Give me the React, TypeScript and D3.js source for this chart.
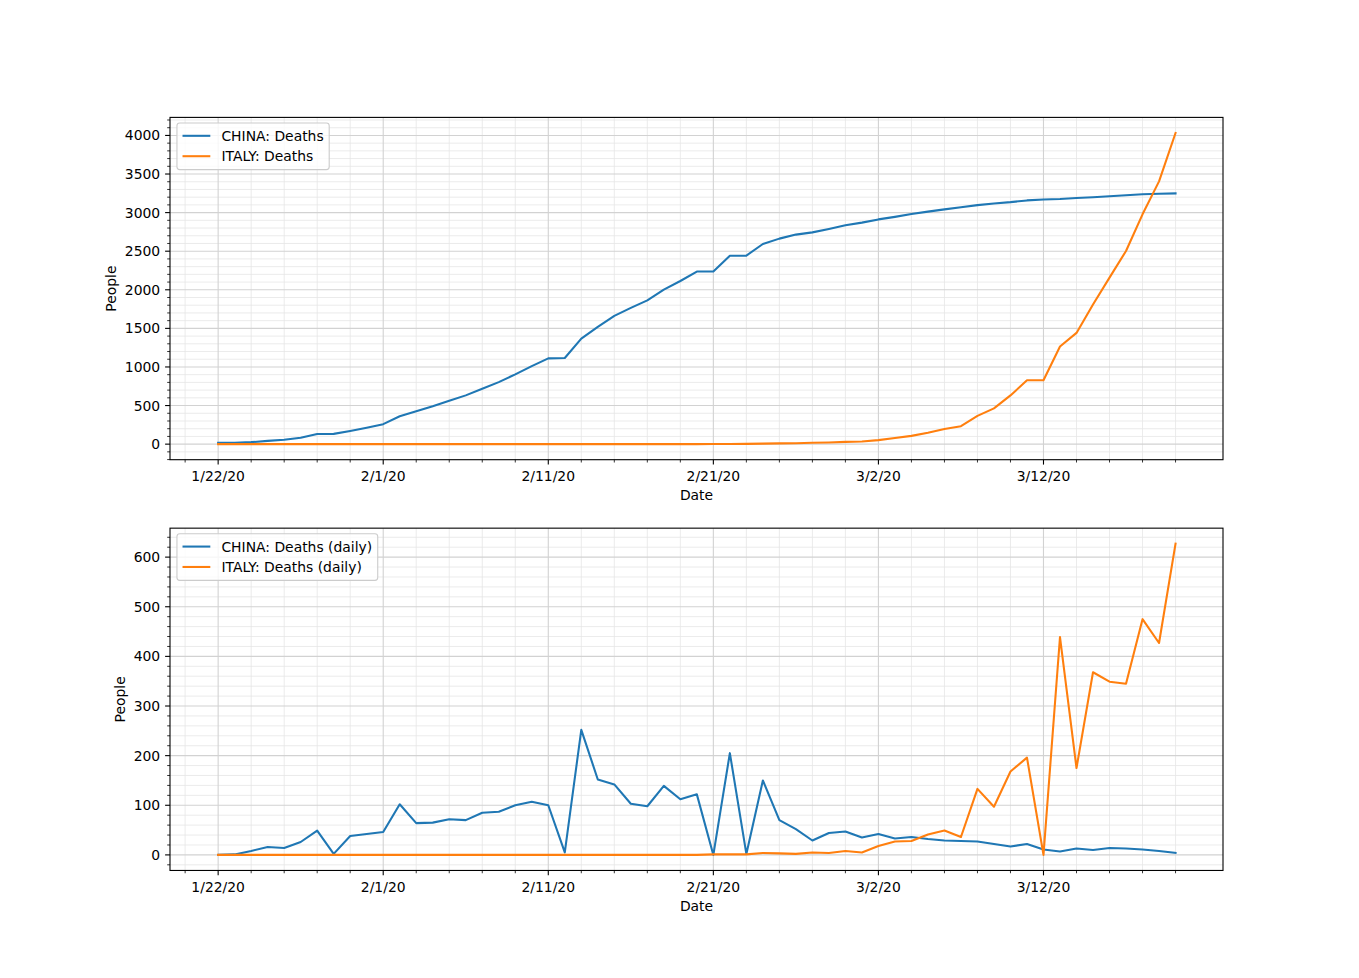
import { useEffect, useRef } from 'react';
import * as d3 from 'd3';

// dates 1/22/20 .. 3/20/20
const startDate = new Date(Date.UTC(2020, 0, 22));
const dayCount = 59;
const dates = d3.range(dayCount).map(i => d3.utcDay.offset(startDate, i));

const chinaDeaths = [
  17, 18, 26, 42, 56, 82, 131, 133, 171, 213,
  259, 361, 425, 490, 562, 632, 717, 804, 904, 1011,
  1111, 1116, 1368, 1520, 1662, 1765, 1863, 2002, 2114, 2236,
  2236, 2441, 2443, 2593, 2663, 2715, 2744, 2788, 2835, 2870,
  2912, 2945, 2981, 3013, 3042, 3070, 3097, 3119, 3136, 3158,
  3169, 3176, 3189, 3199, 3213, 3226, 3237, 3245, 3249,
];
const italyDeaths = [
  0, 0, 0, 0, 0, 0, 0, 0, 0, 0,
  0, 0, 0, 0, 0, 0, 0, 0, 0, 0,
  0, 0, 0, 0, 0, 0, 0, 0, 0, 0,
  1, 2, 3, 7, 10, 12, 17, 21, 29, 34,
  52, 79, 107, 148, 197, 233, 366, 463, 631, 827,
  827, 1266, 1441, 1809, 2158, 2503, 2978, 3405, 4032,
];
const chinaDaily = [
  0, 1, 8, 16, 14, 26, 49, 2, 38, 42,
  46, 102, 64, 65, 72, 70, 85, 87, 100, 107,
  100, 5, 252, 152, 142, 103, 98, 139, 112, 122,
  0, 205, 2, 150, 70, 52, 29, 44, 47, 35,
  42, 33, 36, 32, 29, 28, 27, 22, 17, 22,
  11, 7, 13, 10, 14, 13, 11, 8, 4,
];
const italyDaily = [
  0, 0, 0, 0, 0, 0, 0, 0, 0, 0,
  0, 0, 0, 0, 0, 0, 0, 0, 0, 0,
  0, 0, 0, 0, 0, 0, 0, 0, 0, 0,
  1, 1, 1, 4, 3, 2, 5, 4, 8, 5,
  18, 27, 28, 41, 49, 36, 133, 97, 168, 196,
  0, 439, 175, 368, 349, 345, 475, 427, 627,
];

const topLabels = ['CHINA: Deaths', 'ITALY: Deaths'];
const bottomLabels = ['CHINA: Deaths (daily)', 'ITALY: Deaths (daily)'];
const topYTicks = d3.range(0, 4001, 500);
const bottomYTicks = d3.range(0, 601, 100);
const colors = ['#1f77b4', '#ff7f0e'];

const W = 1359;
const H = 978;
const FS = 13.9;
const FONT = '"DejaVu Sans", sans-serif';

export default function App() {
  const svgRef = useRef<SVGSVGElement>(null);

  useEffect(() => {
    if (!svgRef.current) return;
    const svg = d3.select(svgRef.current);
    svg.selectAll('*').remove();

    const left = 170, right = 1223;
    const axH = 342.3;
    const panels = [
      { top: 117.4, series: [chinaDeaths, italyDeaths], labels: topLabels, yTicks: topYTicks, minorStep: 100, minorMax: 4200, minorMin: -200 },
      { top: 117.4 + axH * 1.2, series: [chinaDaily, italyDaily], labels: bottomLabels, yTicks: bottomYTicks, minorStep: 20, minorMax: 640, minorMin: -20 },
    ];

    // x: 5% margins like matplotlib
    const x0 = d3.utcHour.offset(dates[0], -2.9 * 24);
    const x1 = d3.utcHour.offset(dates[dayCount - 1], 2.9 * 24);
    const x = d3.scaleUtc().domain([x0, x1]).range([left, right]);
    const majorX = d3.range(0, 51, 10).map(i => d3.utcDay.offset(startDate, i));
    const minorX = d3.range(-2, 61, 2).filter(i => i % 10 !== 0).map(i => d3.utcDay.offset(startDate, i));
    const fmt = (d: Date) => `${d.getUTCMonth() + 1}/${d.getUTCDate()}/20`;

    panels.forEach(p => {
      const bottom = p.top + axH;
      const all = p.series.flat();
      const lo = d3.min(all)!, hi = d3.max(all)!;
      const pad = (hi - lo) * 0.05;
      const y = d3.scaleLinear().domain([lo - pad, hi + pad]).range([bottom, p.top]);
      const minorY = d3.range(p.minorMin, p.minorMax + 1, p.minorStep).filter(v => !p.yTicks.includes(v));
      const g = svg.append('g');

      // grid
      g.selectAll('.mgy').data(minorY).join('line')
        .attr('x1', left).attr('x2', right).attr('y1', d => y(d)).attr('y2', d => y(d))
        .attr('stroke', '#e6e6e6').attr('stroke-width', 0.8);
      g.selectAll('.mgx').data(minorX).join('line')
        .attr('y1', p.top).attr('y2', bottom).attr('x1', d => x(d)).attr('x2', d => x(d))
        .attr('stroke', '#e6e6e6').attr('stroke-width', 0.8);
      g.selectAll('.gy').data(p.yTicks).join('line')
        .attr('x1', left).attr('x2', right).attr('y1', d => y(d)).attr('y2', d => y(d))
        .attr('stroke', '#d2d2d2').attr('stroke-width', 1.1);
      g.selectAll('.gx').data(majorX).join('line')
        .attr('y1', p.top).attr('y2', bottom).attr('x1', d => x(d)).attr('x2', d => x(d))
        .attr('stroke', '#d2d2d2').attr('stroke-width', 1.1);

      // lines
      p.series.forEach((s, si) => {
        const line = d3.line<number>().x((_, i) => x(dates[i])).y(d => y(d));
        g.append('path').attr('d', line(s)!)
          .attr('fill', 'none').attr('stroke', colors[si]).attr('stroke-width', 2.08)
          .attr('stroke-linejoin', 'round').attr('stroke-linecap', 'square');
      });

      // frame
      g.append('rect').attr('x', left).attr('y', p.top).attr('width', right - left).attr('height', axH)
        .attr('fill', 'none').attr('stroke', '#000').attr('stroke-width', 1.1);

      // ticks
      g.selectAll('.ty').data(p.yTicks).join('line')
        .attr('x1', left - 4.9).attr('x2', left).attr('y1', d => y(d)).attr('y2', d => y(d))
        .attr('stroke', '#000').attr('stroke-width', 1.1);
      g.selectAll('.tmy').data(minorY).join('line')
        .attr('x1', left - 2.8).attr('x2', left).attr('y1', d => y(d)).attr('y2', d => y(d))
        .attr('stroke', '#000').attr('stroke-width', 0.8);
      g.selectAll('.tx').data(majorX).join('line')
        .attr('y1', bottom).attr('y2', bottom + 4.9).attr('x1', d => x(d)).attr('x2', d => x(d))
        .attr('stroke', '#000').attr('stroke-width', 1.1);
      g.selectAll('.tmx').data(minorX).join('line')
        .attr('y1', bottom).attr('y2', bottom + 2.8).attr('x1', d => x(d)).attr('x2', d => x(d))
        .attr('stroke', '#000').attr('stroke-width', 0.8);

      // tick labels
      const yl = g.selectAll('.ly').data(p.yTicks).join('text')
        .attr('x', left - 9.8).attr('y', d => y(d) + FS * 0.36)
        .attr('text-anchor', 'end').attr('font-family', FONT).attr('font-size', FS).attr('fill', '#000')
        .text(d => String(d));
      g.selectAll('.lx').data(majorX).join('text')
        .attr('x', d => x(d)).attr('y', bottom + 9.8 + FS * 0.76 + 1)
        .attr('text-anchor', 'middle').attr('font-family', FONT).attr('font-size', FS).attr('fill', '#000')
        .text(d => fmt(d));

      // axis labels
      g.append('text').attr('x', (left + right) / 2).attr('y', bottom + 9.8 + FS * 1.17 + 5.6 + FS * 0.76 - 1.5)
        .attr('text-anchor', 'middle').attr('font-family', FONT).attr('font-size', FS).text('Date');
      let maxW = 0;
      yl.each(function () { maxW = Math.max(maxW, (this as SVGTextElement).getComputedTextLength()); });
      const ylx = left - 9.8 - maxW - 5.6 - FS * 0.24;
      g.append('text').attr('transform', `translate(${ylx},${p.top + axH / 2}) rotate(-90)`)
        .attr('text-anchor', 'middle').attr('font-family', FONT).attr('font-size', FS).text('People');

      // legend
      const lx = left + 6.95, ly = p.top + 5.6;
      const leg = g.append('g');
      const box = leg.append('rect');
      let tw = 0;
      p.labels.forEach((lab, i) => {
        const cy = ly + 5.56 + FS / 2 + 0.3 + i * 20.4;
        leg.append('line').attr('x1', lx + 5.56).attr('x2', lx + 5.56 + 27.8).attr('y1', cy).attr('y2', cy)
          .attr('stroke', colors[i]).attr('stroke-width', 2.08);
        const t = leg.append('text').attr('x', lx + 5.56 + 27.8 + 11.1).attr('y', cy + FS * 0.36)
          .attr('font-family', FONT).attr('font-size', FS).attr('fill', '#000').text(lab);
        tw = Math.max(tw, (t.node() as SVGTextElement).getComputedTextLength());
      });
      box.attr('x', lx).attr('y', ly).attr('width', 5.56 * 2 + 27.8 + 11.1 + tw)
        .attr('height', 46.6).attr('rx', 2.8)
        .attr('fill', 'rgba(255,255,255,0.8)').attr('stroke', '#cccccc').attr('stroke-width', 1.1);
    });
  }, []);

  return <svg ref={svgRef} width={W} height={H} style={{ display: 'block', margin: -8 }} />;
}
